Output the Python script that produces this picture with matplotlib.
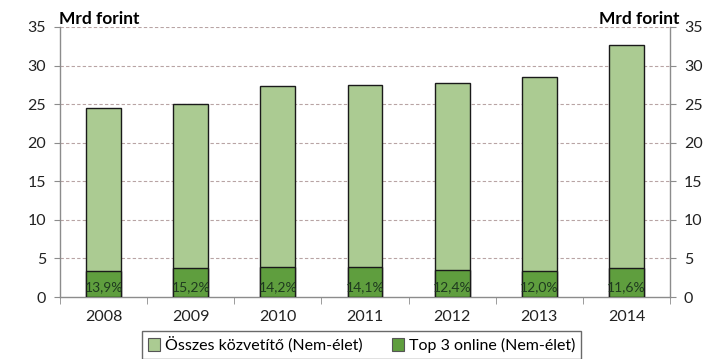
import numpy as np
import matplotlib.pyplot as plt
from matplotlib.patches import Patch

plt.rcParams['font.family'] = ['Lato', 'DejaVu Sans']

years = ['2008', '2009', '2010', '2011', '2012', '2013', '2014']
total = [24.5, 25.0, 27.4, 27.5, 27.8, 28.5, 32.7]
share_pct = [13.9, 15.2, 14.2, 14.1, 12.4, 12.0, 11.6]
share_labels = ['13,9%', '15,2%', '14,2%', '14,1%', '12,4%', '12,0%', '11,6%']

top3 = [t * p / 100 for t, p in zip(total, share_pct)]

light = '#abcb92'
dark = '#5f9e3e'
axcol = '#8c8c8c'

fig = plt.figure(figsize=(7.09, 3.59), dpi=100)
ax = fig.add_axes([0.0846, 0.1727, 0.8604, 0.7521])

x = np.arange(len(years))
ax.bar(x, total, width=0.4, color=light, edgecolor='#1a1a1a', linewidth=1.0, zorder=3)
ax.bar(x, top3, width=0.4, color=dark, edgecolor='#1a1a1a', linewidth=1.0, zorder=4)

for xi, lab in zip(x, share_labels):
    ax.text(xi, 1.25, lab, ha='center', va='center', fontsize=10, color='#1f3a1f', zorder=5)

ax.set_xlim(-0.5, len(years) - 0.5)
ax.set_ylim(0, 35)
ax.set_yticks(range(0, 36, 5))
ax.set_xticks(x)
ax.set_xticklabels(years)
ax.set_xticks(np.arange(-0.5, len(years), 1), minor=True)
ax.tick_params(axis='x', which='major', length=0, pad=9, labelsize=11.5, colors='#222222')
ax.tick_params(axis='x', which='minor', length=5, color=axcol, direction='out')
ax.tick_params(axis='y', length=4, color=axcol, labelsize=11.5, labelcolor='#222222',
               left=True, right=True, labelleft=True, labelright=True, pad=6)

for y in range(5, 36, 5):
    ax.axhline(y, color='#b8a4a4', linestyle=(0, (3, 2)), linewidth=0.8, zorder=1)

ax.spines['top'].set_visible(False)
for s in ['left', 'right', 'bottom']:
    ax.spines[s].set_color(axcol)
    ax.spines[s].set_linewidth(1.0)

fig.text(0.0832, 0.933, 'Mrd forint', fontsize=12.5, fontweight='bold', ha='left', va='baseline')
fig.text(0.959, 0.933, 'Mrd forint', fontsize=12.5, fontweight='bold', ha='right', va='baseline')

handles = [Patch(facecolor=light, edgecolor='#555555', linewidth=0.8),
           Patch(facecolor=dark, edgecolor='#555555', linewidth=0.8)]
fig.legend(handles, ['Összes közvetítő (Nem-élet)', 'Top 3 online (Nem-élet)'],
           loc='upper center', bbox_to_anchor=(0.51, 0.1), ncol=2, fontsize=11.5,
           frameon=True, fancybox=False, edgecolor='#444444', handlelength=0.8,
           handleheight=0.8, handletextpad=0.3, columnspacing=1.8, borderpad=0.35)

fig.savefig('out.png', dpi=100)
